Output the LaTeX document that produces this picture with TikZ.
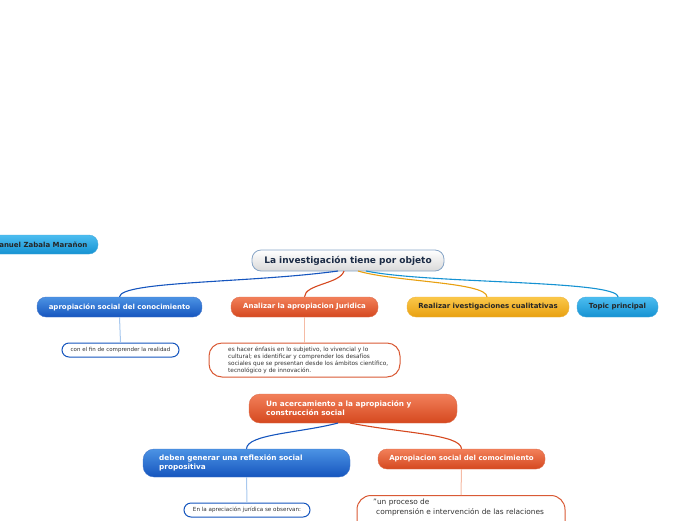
\documentclass[tikz,border=0pt]{standalone}
\usepackage{fontspec}
\setmainfont{DejaVu Sans}
\begin{document}
\begin{tikzpicture}[x=1pt,y=-1pt,
  base/.style={rounded corners=9pt,inner sep=0pt,font=\bfseries\fontsize{7}{8}\selectfont},
  bluebox/.style={base,top color=bluetop,bottom color=bluebot,draw=bluebot!80!white,text=white},
  redbox/.style={base,top color=redtop,bottom color=redbot,draw=redbot!80!white,text=white},
  yelbox/.style={base,top color=yeltop,bottom color=yelbot,draw=yelbot!80!white,text=black!85},
  cyanbox/.style={base,top color=cyantop,bottom color=cyanbot,draw=cyanbot!80!white,text=black!85},
  notebox/.style={rounded corners=7pt,fill=white,line width=1pt,inner sep=0pt,font=\fontsize{5.5}{6.8}\selectfont,text=black!80},
  lefttext/.style={anchor=west,inner sep=0pt,align=left},
  mainlink/.style={line width=1.1pt},
  sublink/.style={line width=1pt}
]
\definecolor{bluetop}{HTML}{4C93E4}
\definecolor{bluebot}{HTML}{1555BE}
\definecolor{redtop}{HTML}{F2805A}
\definecolor{redbot}{HTML}{D5481F}
\definecolor{yeltop}{HTML}{FBC84A}
\definecolor{yelbot}{HTML}{E8A010}
\definecolor{cyantop}{HTML}{4CBDF0}
\definecolor{cyanbot}{HTML}{1592D2}
\definecolor{navy}{HTML}{1B2B45}
\definecolor{lblue}{HTML}{A8C8EE}
\definecolor{lred}{HTML}{F5BBA5}
\useasboundingbox (0,0) rectangle (696,520);
\clip (0,0) rectangle (696,520);

\coordinate (cb1) at (338,271);
\coordinate (cb2) at (344,271);
\coordinate (cb3) at (358,271);
\coordinate (cb4) at (366,271);

% nodes
\node[cyanbox,minimum width=120pt,minimum height=19pt] (zab) at (38,244.5) {};
\node[anchor=east,inner sep=0pt,text=black!85,font=\bfseries\fontsize{7}{8}\selectfont] (zabtext) at (87.5,244.5) {Manuel Zabala Marañon};
\node[rounded corners=9pt,top color=white,bottom color=black!15,draw=bluetop!70!black!60,line width=0.8pt,text=navy,font=\bfseries\fontsize{9}{10}\selectfont,minimum width=192pt,minimum height=21pt,inner sep=0pt] (main) at (348,260.5) {La investigación tiene por objeto};

\node[bluebox,minimum width=165pt,minimum height=20pt] (apro) at (119.5,307) {apropiación social del conocimiento};
\node[redbox,minimum width=147pt,minimum height=20pt] (anal) at (304.5,307) {Analizar la apropiacion Juridica};
\node[yelbox,minimum width=162pt,minimum height=20pt] (real) at (488,307) {Realizar ivestigaciones cualitativas};
\node[cyanbox,minimum width=81pt,minimum height=20pt] (topic) at (617.5,307) {Topic principal};

\node[notebox,draw=bluebot,minimum width=117pt,minimum height=14pt] (fin) at (120.5,350) {con el fin de comprender la realidad};
\node[notebox,draw=redbot!90,rounded corners=13pt,minimum width=191pt,minimum height=34pt] (enf) at (304.5,360) {};
\node[lefttext,text=black!80,font=\fontsize{5.8}{6.9}\selectfont] (enftext) at (228,360.5)
  {es hacer énfasis en lo subjetivo, lo vivencial y lo\\cultural; es identificar y comprender los desafíos\\sociales que se presentan desde los ámbitos científico,\\tecnológico y de innovación.};

\node[redbox,rounded corners=11pt,minimum width=208pt,minimum height=29pt] (acer) at (353,408.5) {};
\node[lefttext,text=white,font=\bfseries\fontsize{7.3}{9}\selectfont] (acertext) at (266,408.5) {Un acercamiento a la apropiación y\\construcción social};

\node[bluebox,rounded corners=11pt,minimum width=207pt,minimum height=28pt] (deben) at (246.5,463) {};
\node[lefttext,text=white,font=\bfseries\fontsize{7.3}{9}\selectfont] (debentext) at (159,463) {deben generar una reflexión social\\propositiva};
\node[redbox,minimum width=167pt,minimum height=20pt] (apsoc) at (461.5,459) {Apropiacion social del comocimiento};

\node[notebox,draw=bluebot,minimum width=126pt,minimum height=14pt,font=\fontsize{5.6}{6.8}\selectfont] (obs) at (247,510) {En la apreciación jurídica se observan:};
\node[notebox,draw=redbot!90,rounded corners=14pt,minimum width=208pt,minimum height=44pt,anchor=north] (proc) at (461,495) {};
\node[anchor=north west,inner sep=0pt,align=left,text=black!80,font=\fontsize{7.4}{10}\selectfont] (proctext) at (373,498.5)
  {"un proceso de\\\hspace*{3pt}comprensión e intervención de las relaciones};

% connectors
\draw[mainlink,bluebot] (cb1) .. controls (250,283) and (121,281) .. (apro.north);
\draw[mainlink,redbot] (cb2) .. controls (340,284) and (305,284) .. (anal.north);
\draw[mainlink,yelbot] (cb3) .. controls (395,282) and (487,282) .. (487,297);
\draw[mainlink,cyanbot] (cb4) .. controls (430,284) and (618,280) .. (618,297);

\draw[sublink,lblue] (apro.south) -- (fin.north);
\draw[sublink,lred] (anal.south) -- (enf.north);
\draw[mainlink,bluebot] (338,423) .. controls (300,433) and (247,434) .. (deben.north);
\draw[mainlink,redbot] (350,423) .. controls (400,433) and (461,434) .. (apsoc.north);
\draw[sublink,lblue] (deben.south) -- (obs.north);
\draw[sublink,lred] (apsoc.south) -- (proc.north);
\end{tikzpicture}
\end{document}
